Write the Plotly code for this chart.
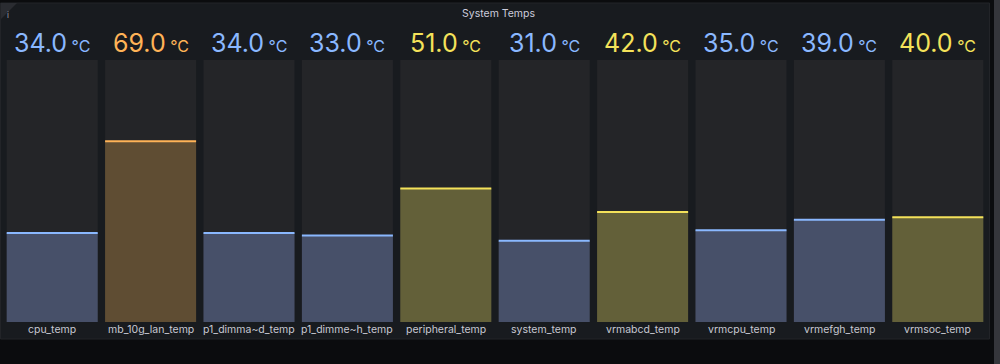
import plotly.graph_objects as go

# ---- data ----
sensors = ["cpu_temp", "mb_10g_lan_temp", "p1_dimma~d_temp", "p1_dimme~h_temp",
           "peripheral_temp", "system_temp", "vrmabcd_temp", "vrmcpu_temp",
           "vrmefgh_temp", "vrmsoc_temp"]
temps = [34.0, 69.0, 34.0, 33.0, 51.0, 31.0, 42.0, 35.0, 39.0, 40.0]
unit = "°C"
scale_min = 0
scale_max = 100
title = "System Temps"


def level(v):
    if v >= 60:
        return "orange"
    if v >= 40:
        return "yellow"
    return "blue"


text_colors = {"blue": "#8ab8ff", "yellow": "#f4e25a", "orange": "#ffb357"}
fill_colors = {"blue": "#475069", "yellow": "#636039", "orange": "#5f4d33"}

PANEL = "#181b1f"
TRACK = "#242528"
OUTER = "#0b0c0e"

xs = list(range(len(sensors)))
bar_w = 0.925
levels = [level(v) for v in temps]

fig = go.Figure()

fig.add_trace(go.Bar(x=xs, y=[scale_max] * len(xs), width=bar_w,
                     marker=dict(color=TRACK, line=dict(width=0)),
                     hoverinfo="skip", showlegend=False))
fig.add_trace(go.Bar(x=xs, y=temps, width=bar_w,
                     marker=dict(color=[fill_colors[l] for l in levels], line=dict(width=0)),
                     hoverinfo="skip", showlegend=False))
for x, v, l in zip(xs, temps, levels):
    fig.add_trace(go.Scatter(x=[x - bar_w / 2, x + bar_w / 2], y=[v, v], mode="lines",
                             line=dict(color=text_colors[l], width=2),
                             hoverinfo="skip", showlegend=False))

plot_l, plot_r, plot_t, plot_b = 3, 987, 60, 322
pw, ph = plot_r - plot_l, plot_b - plot_t


def px(x):
    return (x - plot_l) / pw


def py(y):
    return (plot_b - y) / ph


annotations = []
for x, v, l, name in zip(xs, temps, levels, sensors):
    annotations.append(dict(
        x=x, y=scale_max, xref="x", yref="y", yanchor="middle", yshift=17,
        text=f"{v:.1f}<span style='font-size:16px'> {unit}</span>",
        showarrow=False, font=dict(family="Inter", size=25, color=text_colors[l])))
    annotations.append(dict(
        x=x, y=scale_min, xref="x", yref="y", yanchor="middle", yshift=-7,
        text=name, showarrow=False, font=dict(family="Inter", size=10.5, color="#c7c8d2")))

annotations.append(dict(x=px(499), y=py(13), xref="paper", yref="paper",
                        yanchor="middle", xanchor="center", text=title, showarrow=False,
                        font=dict(family="Inter", size=10.5, color="#ccccdc")))
annotations.append(dict(x=px(5), y=py(8), xref="paper", yref="paper", text="i",
                        showarrow=False, font=dict(family="Inter", size=8, color="#9fa1a8")))

shapes = [
    dict(type="rect", xref="paper", yref="paper", x0=px(0.5), x1=px(989.5), y0=py(339), y1=py(3),
         fillcolor=PANEL, line=dict(color="#222428", width=1), layer="below"),
    dict(type="path", xref="paper", yref="paper",
         path=f"M {px(1)} {py(3)} L {px(17)} {py(3)} L {px(1)} {py(19)} Z",
         fillcolor="#2a2c31", line=dict(width=0), layer="below"),
    dict(type="rect", xref="paper", yref="paper", x0=px(994), x1=px(1000), y0=py(364), y1=py(0),
         fillcolor="#35363b", line=dict(width=0), layer="below"),
]

fig.update_layout(
    width=1000, height=364,
    margin=dict(l=plot_l, r=1000 - plot_r, t=plot_t, b=364 - plot_b),
    paper_bgcolor=OUTER, plot_bgcolor="rgba(0,0,0,0)",
    barmode="overlay",
    xaxis=dict(range=[-0.5, len(xs) - 0.5], visible=False, fixedrange=True),
    yaxis=dict(range=[scale_min, scale_max], visible=False, fixedrange=True),
    font=dict(family="Inter"),
    annotations=annotations,
    shapes=shapes,
)

fig.write_html("out.html")
